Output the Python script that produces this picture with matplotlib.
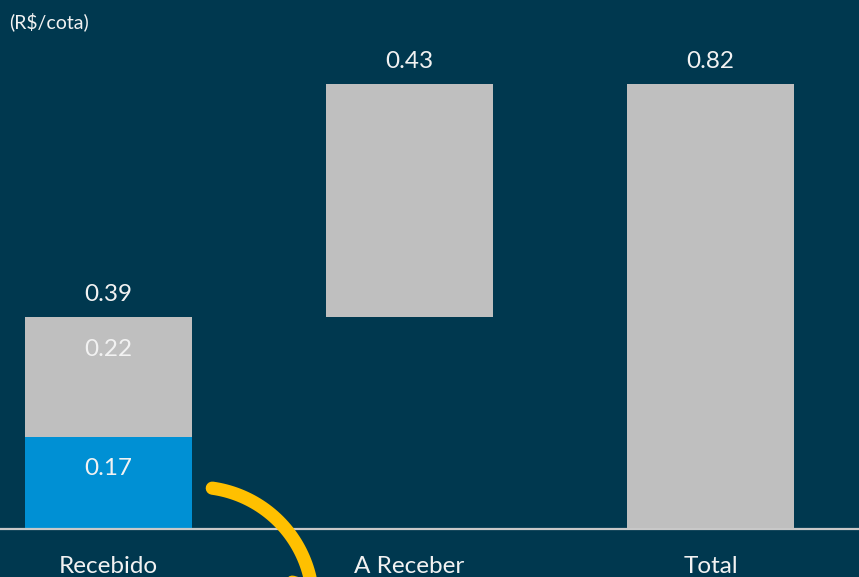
import matplotlib.pyplot as plt
import numpy as np
from matplotlib.patches import FancyArrowPatch
from matplotlib.path import Path

# Données (R$/cota)
categorias = ["Recebido", "A Receber", "Total"]
recebido_partes = [0.17, 0.22]          # azul, cinza
a_receber = 0.43
total = 0.82
rotulos_topo = ["0.39", "0.43", "0.82"]

fundo = "#00384f"
azul = "#0090d4"
cinza = "#bfbfbf"
amarelo = "#ffc000"
texto = "#f2f2f2"

plt.rcParams["font.family"] = ["Lato", "DejaVu Sans"]

fig = plt.figure(figsize=(8.59, 5.77), dpi=100, facecolor=fundo)
ax = fig.add_axes([0, 0, 1, 1], facecolor=fundo)
ax.set_xlim(-0.3605, 2.4934)
ax.set_ylim(-0.0884, 0.9748)
ax.axis("off")

x = np.arange(len(categorias))
larg = 0.555
base_recebido = sum(recebido_partes)

# barras
ax.bar(x[0], recebido_partes[0], larg, color=azul, zorder=2)
ax.bar(x[0], recebido_partes[1], larg, bottom=recebido_partes[0], color=cinza, zorder=2)
ax.bar(x[1], a_receber, larg, bottom=base_recebido, color=cinza, zorder=2)
ax.bar(x[2], total, larg, color=cinza, zorder=2)

# linha de base
ax.axhline(0, color="#c8c8c8", lw=1.6, zorder=3)

# rótulos internos (um pouco acima do centro, como no original)
ax.text(x[0], recebido_partes[0] * 0.66, f"{recebido_partes[0]:.2f}", ha="center", va="center",
        color=texto, fontsize=17.5)
ax.text(x[0], recebido_partes[0] + recebido_partes[1] * 0.73, f"{recebido_partes[1]:.2f}",
        ha="center", va="center", color=texto, fontsize=17.5)

# rótulos no topo
topos = [base_recebido, base_recebido + a_receber, total]
for xi, t, r in zip(x, topos, rotulos_topo):
    ax.text(xi, t + 0.042, r, ha="center", va="center", color=texto, fontsize=17.5)

# categorias
for xi, c in zip(x, categorias):
    ax.text(xi, -0.069, c, ha="center", va="center", color=texto, fontsize=17.5)

# unidade
fig.text(0.011, 0.962, "(R$/cota)", color=texto, fontsize=14, ha="left", va="center")

# seta amarela em arco (círculo em pixels, passado para dados)
theta = np.radians(np.linspace(82, -17, 60))
px = 196 + 117 * np.cos(theta)
py = 604 - 117 * np.sin(theta)
pts = np.column_stack([(px - 108.5) / 301, (529 - py) / 542.7])
seta = FancyArrowPatch(path=Path(pts), arrowstyle="-|>,head_length=1.4,head_width=1.1",
                       mutation_scale=20, color=amarelo, lw=9.5, capstyle="round",
                       joinstyle="round", shrinkA=0, shrinkB=0, clip_on=False, zorder=4)
ax.add_patch(seta)

fig.savefig("out.png", dpi=100, facecolor=fundo)
